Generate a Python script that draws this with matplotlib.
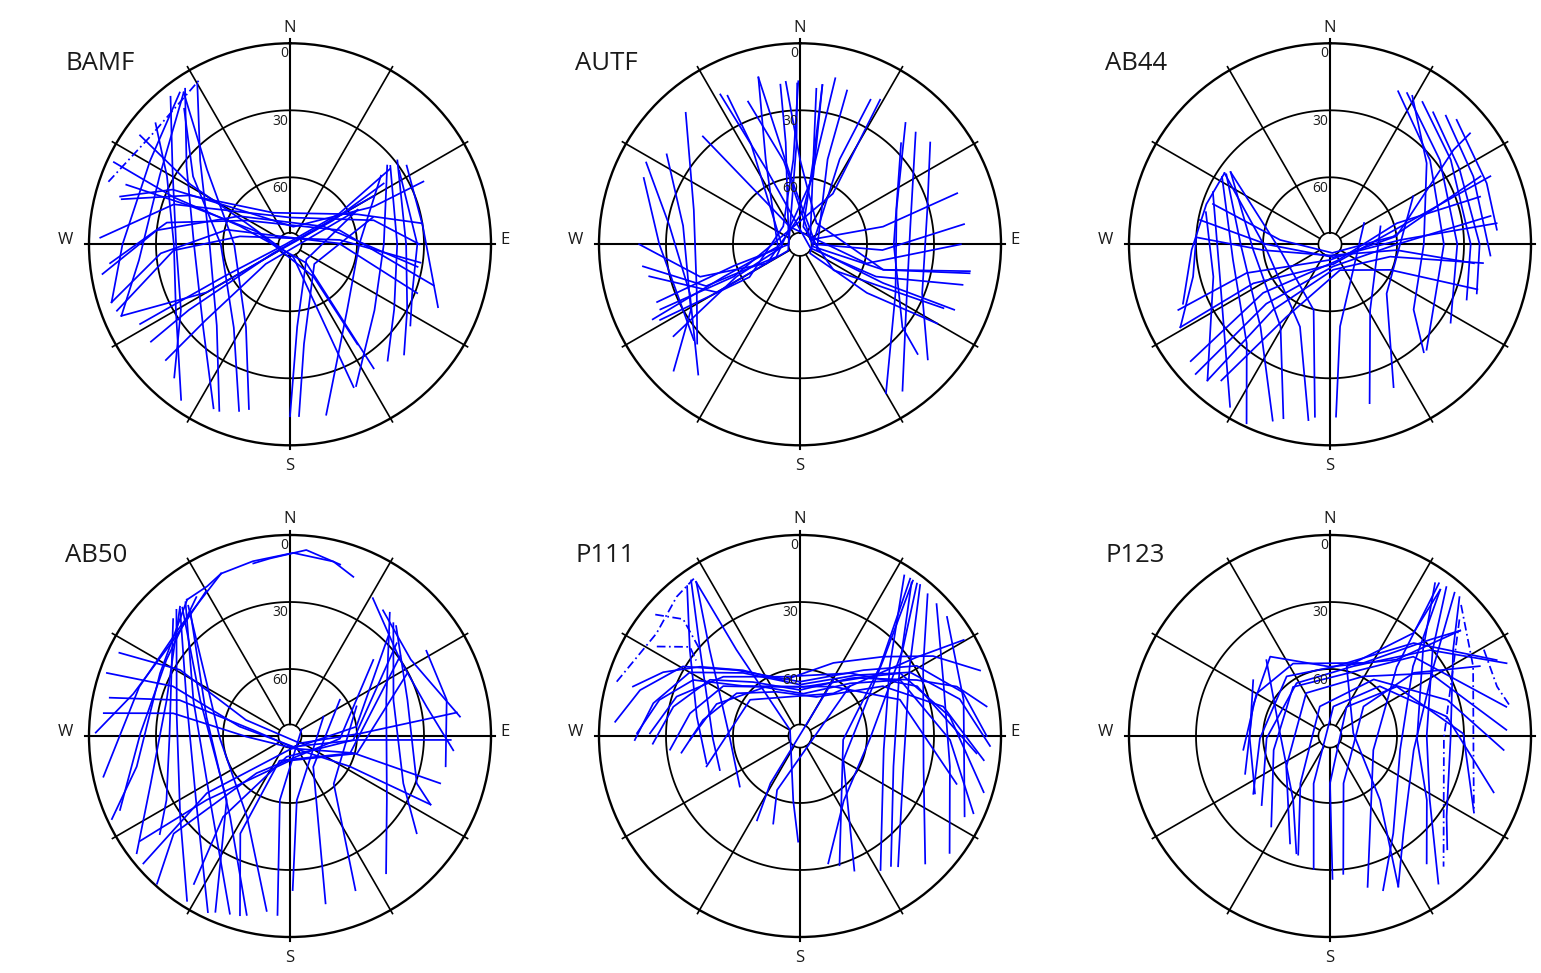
import numpy as np
import matplotlib.pyplot as plt

plt.rcParams['font.family'] = ['Open Sans', 'DejaVu Sans']

# satellite tracks: azimuth (deg) and elevation (deg) per track
bamf_az = [
    [326, 307, 270, 226, 205], [321, 302, 270, 239, 221], [330, 313, 270, 222, 203],
    [322, 305, 270, 214, 197], [312, 299, 270, 240, 215], [325, 312, 270, 208, 194],
    [295, 292, 290, 139, 146], [306, 301, 296, 165, 156], [290, 291, 291, 144, 146],
    [272, 289, 0, 74, 90], [285, 296, 332, 66, 81], [261, 276, 299, 62, 100],
    [264, 280, 299, 74, 106], [252, 266, 283, 89, 111],
    [51, 90, 128, 155], [52, 90, 122, 140], [52, 90, 119, 134], [56, 90, 112, 124],
    [56, 82, 113], [53, 90, 139, 168],
    [53, 58, 270, 244, 242], [57, 61, 240, 240, 247], [60, 242, 237, 235], [63, 231, 228, 227],
    [63, 133, 175, 180], [72, 129, 172, 177],
    [324, 301, 270, 252], [325, 298, 264, 247], [289, 308, 331],
    [285.7, 295, 304.5, 10.7, 65.7, 64.8], [249, 267, 279, 85, 98],
]
bamf_el = [
    [6, 32, 47, 36, 9], [5, 28, 39, 33, 11], [7, 35, 54, 41, 9],
    [13, 37, 59, 45, 12], [9, 27, 38, 31, 5], [7, 40, 65, 48, 14],
    [3, 34, 66, 79, 23], [7, 38, 68, 84, 20], [12, 42, 74, 72, 36],
    [5, 35, 78, 51, 32], [12, 40, 74, 57, 30], [5, 30, 64, 73, 32],
    [9, 34, 68, 67, 23], [6, 32, 61, 68, 29],
    [34, 48, 42, 20], [33, 42, 35, 22], [29, 38, 30, 19], [31, 33, 31, 25],
    [27, 30, 18], [39, 59, 51, 12],
    [34, 64, 88, 57, 14], [40, 68, 85, 47, 8], [47, 81, 36, 14], [56, 76, 39, 14],
    [56, 80, 53, 13], [51, 76, 45, 13],
    [6, 17, 15, 6], [7, 24, 22, 8], [4, 11, 6],
    [11, 32, 62.8, 82, 49, 24], [7, 37.8, 67.3, 67.6, 31],
]
bamf_dashed = [28]

autf_az = [
    [270, 252, 240, 5.5, 12], [262, 246, 242, 11, 8], [258, 240, 242, 358, 359],
    [248, 252, 270, 352, 353], [243, 247, 264, 338, 346], [234, 243, 262, 334, 334],
    [298, 278, 246, 218], [319, 288, 245, 226], [304, 279, 239, 225], [293, 270, 241, 228],
    [41, 70, 117, 150], [46, 81, 122, 145], [52, 75, 112, 132], [45, 90, 129, 133],
    [83, 94, 90, 352, 346], [99, 107, 100, 349, 340], [104, 113, 110, 336, 332],
    [72, 78, 66, 9, 6], [113, 115, 109, 18, 17], [120, 126, 132, 25, 26],
    [245, 244, 33, 29], [90, 106, 330, 318],
    [359.4, 355.5, 317, 237, 241.6], [8, 9, 10.7, 127.6, 114], [355, 0, 38, 107, 99.7],
]
autf_el = [
    [18, 43, 73, 75, 14], [19, 44, 78, 59, 18], [21, 47, 84, 45, 18],
    [21, 59, 85, 44, 18], [16, 53, 80, 49, 13], [20, 58, 82, 40, 16],
    [12, 31, 36, 16], [12, 40, 39, 26], [18, 37, 33, 10], [14, 27, 30, 26],
    [18, 44, 42, 13], [18, 40, 34, 10], [16, 31, 31, 13], [26, 48, 31, 18],
    [16, 53, 83, 59, 13], [13, 51, 84, 52, 22], [15, 53, 85, 54, 14],
    [16, 52, 85, 52, 20], [15, 49, 82, 50, 18], [19, 53, 84, 48, 18],
    [21, 57, 63, 16], [18, 59, 81, 25],
    [17, 52, 79, 63, 18.8], [18, 51.8, 82, 71, 19.7], [17, 52, 78, 51, 13],
]
autf_dashed = []

ab44_az = [
    [24, 50, 90, 137.5], [27, 52.5, 90, 123], [33, 55, 90, 112], [38, 60, 90, 108.5],
    [42, 64.7, 94], [45.5, 68.7, 85], [29, 50, 90, 128, 139],
    [246.6, 251, 180, 83, 52.6, 51.6], [241, 243, 170, 76, 67], [230, 234, 157, 72.5, 72.4],
    [226, 227, 172, 91, 80], [222, 221, 173, 101.6, 97], [218.6, 211, 159, 113, 107],
    [304, 270, 220, 198], [302, 261, 220, 205], [306, 266, 211, 195], [294, 253.6, 211.6],
    [304, 265, 200, 187], [284.5, 254.5, 222], [273, 256.7, 241], [304, 288, 267.7, 248],
    [273, 265, 180, 95, 97.5], [280.6, 270, 165, 86.5, 82.8], [289, 275, 165, 83, 65.7],
    [306, 263.5, 194, 185], [58, 173, 178], [70.5, 148.6, 166], [60, 131, 156],
]
ab44_el = [
    [15, 31.5, 39, 26], [14, 28, 33, 25.6], [14, 24, 27, 24], [15, 23, 23, 20.7],
    [12.5, 19, 18], [10.5, 14.7, 15], [14, 33.5, 48, 42.5, 26],
    [16, 50.5, 83, 60, 20.4, 10], [13.4, 51.5, 81, 57.6, 12], [8.6, 53, 82, 58.6, 19.5],
    [6.4, 51, 80, 61.6, 17], [8, 51, 78.5, 62.5, 21], [12, 52, 77.6, 60.7, 21],
    [34, 50, 41.6, 7], [33, 46, 32, 1.6], [35, 55.5, 47, 9.4], [32.6, 38.6, 4.6],
    [33, 61.5, 50.7, 10.7], [32.6, 35.8, 8], [30, 27, 13.4], [33, 31.8, 28, 19],
    [30, 60, 85, 60, 25], [30.7, 61.6, 84, 58.6, 14.8], [34.6, 67.6, 86, 61.5, 16],
    [35, 67.5, 59.7, 12.5], [72, 53, 12.8], [66, 55.5, 16.7], [47, 56.4, 20],
]
ab44_dashed = []

ab50_az = [
    [337, 348, 1, 14, 21.7], [348, 353.6, 5, 16.3], [322.8, 331, 337],
    [330, 309.5, 285, 271], [337, 314.8, 288, 257.7], [326, 301.6, 271, 246.5],
    [323, 295.7, 258.7, 245], [319.6, 286, 251, 232.6],
    [319, 289, 235.6, 205], [322, 290, 231, 198.7], [318, 280, 233.7, 212],
    [321.6, 283, 216.6, 193.6], [315, 269, 242.6, 233], [322, 268, 208, 187.6],
    [289, 293, 280.6, 163, 93.4, 91.4], [296, 301, 290, 126, 88, 82],
    [277, 281, 269, 160, 105, 107.5], [282, 288, 279, 150, 117, 116],
    [31, 55, 78, 95], [36.5, 57.7, 83.5], [42.5, 71, 112.7, 127.5], [39, 69.6, 123.5, 145],
    [44, 73, 110.5, 116], [58, 77, 101],
    [44, 82, 180, 235.5, 229], [49, 93.6, 189, 219.6, 213], [54, 106, 203, 207, 195.6],
    [54, 143, 168], [66, 137.5, 157], [60, 189, 184], [60, 174, 179],
    [320, 292, 224.7, 203], [47.6, 93, 222, 230, 222], [62, 104.6, 180, 232.5, 235],
]
ab50_el = [
    [11, 10, 8, 9.5, 13.3], [11, 10, 6.4, 10], [13.5, 13.4, 11],
    [15, 22.4, 17.3, 3], [11, 20.6, 19, 4.5], [15, 25, 23, 7],
    [13.5, 25.4, 20, 2], [14, 32.5, 24, 3.6],
    [15, 41, 39, 3], [14, 44, 44, 6], [14, 38.5, 29, 3],
    [18, 51.6, 45, 7.6], [16, 36, 27.7, 17], [16, 58.6, 49, 11],
    [3.3, 33, 67, 85, 60, 18], [5, 32.5, 69, 84.5, 58.6, 14.6],
    [6, 36.7, 70.6, 84, 60.6, 19.5], [7.5, 38, 73.4, 83, 60, 20],
    [18, 30, 27.4, 16.6], [20, 26, 13.4], [21.5, 41, 35, 18.5], [19, 44, 38, 15],
    [21.6, 35, 29.4, 20], [18, 18, 19],
    [26, 60, 84, 44.8, 3], [26.7, 61.6, 80.6, 43, 11], [29, 62, 78, 41, 6.7],
    [62.4, 72.7, 13.4], [57.4, 61, 15], [84, 61, 9.7], [72.7, 61, 21],
    [15, 46.6, 49.7, 4.5], [39.5, 67.6, 67.6, 22, 1], [30.7, 59, 79, 43, 8],
]
ab50_dashed = []

p111_az = [
    [33, 52, 99.5, 149], [36, 55, 108, 145], [38.5, 57.8, 106.5, 143], [42, 60.6, 104, 135.5],
    [46, 70, 101.5, 128], [51, 77.6, 116], [37.5, 50, 92, 146, 167.5], [35, 49, 95, 163],
    [274.4, 286, 300.7, 316, 0, 44, 59, 75, 90],
    [268.6, 282.6, 300, 318, 0, 43, 60, 77, 93],
    [267, 283, 302, 319, 0, 41, 58, 82.7, 107],
    [264, 281.6, 303, 323, 4.5, 43.5, 60.8, 91.5, 114],
    [262, 279.4, 304, 332, 23, 59, 78.4, 97.5],
    [252, 306, 38, 56, 59.6],
    [286.5, 295, 304.7, 319, 343.4, 24.6, 46.4, 59, 70],
    [271, 284.4, 297.7, 311, 4, 46, 64.4, 72.5, 81],
    [325, 310.7, 268, 247], [326, 313.7, 268, 230], [323, 308, 280.6, 253.7],
    [326, 323.6, 301, 186, 181], [30.8, 212, 207], [45, 203, 197],
    [286.5, 305.6, 318.5, 326], [310, 315, 310.7], [302, 309, 306],
    [36, 47.6, 119, 158],
    [271, 287.7, 307.7, 344, 38.6, 67, 95.6], [268, 291, 326, 34, 70, 107],
]
p111_el = [
    [4.3, 39, 52, 20], [5, 35.5, 46, 19], [3.6, 32, 41.7, 17], [4.6, 26.7, 33, 10],
    [5, 21.6, 21.5, 5], [5.3, 15, 8], [4, 30, 58.6, 55, 31.6], [4, 42.5, 70.6, 29.5],
    [7, 15.5, 29, 49, 65.7, 49, 29, 14.5, 6.4],
    [16, 22.7, 33, 52, 67, 52.7, 33, 16.6, 4.8],
    [24, 31.8, 42.5, 58, 69.4, 55.8, 37, 22.3, 4],
    [31.5, 39.7, 49, 62.5, 71, 57.5, 38.6, 22.8, 5],
    [36.4, 46, 55.8, 67.6, 71, 46.7, 24.5, 7],
    [46, 62.4, 65.8, 26.8, 5],
    [12, 22.4, 35.5, 51, 64, 54, 38.5, 20.5, 4.2],
    [17, 25, 36, 55.8, 68, 52.7, 32, 16.4, 5.4],
    [5, 31, 51, 51], [7, 34, 58.6, 54.8], [6, 27.4, 43, 46.4],
    [6.7, 42, 84.8, 61, 42.7], [61, 65, 47.6], [58.5, 63.7, 49],
    [4.4, 11, 6.7, 5], [5.4, 16, 31], [14.4, 26.6, 32.5],
    [4, 39.5, 67.8, 25],
    [22.8, 32, 46.6, 62.4, 54, 33, 10.6], [40.7, 50, 63.3, 63.3, 42.4, 16.7],
]
p111_dashed = [22, 23, 24]

p123_az = [
    [38, 50, 90, 122.6, 143.7], [34.5, 47, 92, 123.5, 142.8], [43, 55, 91, 124.7, 134],
    [37, 50, 101, 147, 161], [35.5, 44, 108, 166],
    [261, 300, 333, 24.6, 46, 51], [233, 268, 324, 3, 42, 65.5],
    [224.7, 268, 327.7, 18.6, 49.3, 67.6], [246, 291, 323, 0, 41, 51],
    [213, 256, 323, 15, 46.4, 80.6], [200.4, 234.7, 331, 29, 58, 88],
    [195, 212, 341, 37.7, 73, 94.6], [187, 199, 6.5, 45, 80.6, 109],
    [179, 180, 29.6, 53.5, 89, 118], [174.5, 164, 48.6, 53, 65],
    [155.6, 142, 83, 13.5, 39, 37], [306, 269, 232.6],
    [45, 64, 102, 118], [60.7, 73.5, 81], [48, 91, 139],
    [41, 56, 99.5, 143, 155.6], [320, 273, 210, 196],
]
p123_el = [
    [5.4, 30, 46.7, 37, 8], [7, 33, 51, 38, 18.4], [5, 22.7, 36, 26.5, 17],
    [8, 41.5, 58, 38, 17], [6, 47, 69.6, 20.4],
    [50.7, 52, 53.6, 54, 28, 15], [47, 58.6, 57, 59, 34, 8],
    [46.5, 61.6, 62, 57, 31, 4.5], [48.4, 53, 45.5, 59, 44.7, 15],
    [41.7, 64, 62.5, 61, 38.5, 10], [38.7, 66, 68, 59.5, 37, 11],
    [35, 65, 76, 58, 35, 12], [30, 67.5, 76.7, 58.5, 37, 12.5],
    [26, 68.8, 75, 52.8, 30.3, 17], [28, 68, 70, 43, 16],
    [16, 53.6, 79.5, 58, 30.7, 8], [47.5, 54, 47.7],
    [7, 18.7, 24.3, 17], [11, 12, 8], [12, 39, 12.5],
    [5, 34, 52, 35.4, 16], [45.7, 67.6, 57, 35.4],
]
p123_dashed = [17, 18, 19]

stations = ["BAMF", "AUTF", "AB44", "AB50", "P111", "P123"]
tracks = [
    (bamf_az, bamf_el, bamf_dashed), (autf_az, autf_el, autf_dashed),
    (ab44_az, ab44_el, ab44_dashed), (ab50_az, ab50_el, ab50_dashed),
    (p111_az, p111_el, p111_dashed), (p123_az, p123_el, p123_dashed),
]

W, H = 1541, 973
R = 201
centers = [(290, 244.3), (800, 244.3), (1330, 244.3), (290, 736), (800, 736), (1330, 736)]

fig = plt.figure(figsize=(W / 100, H / 100), dpi=100)
ring = np.linspace(0, 2 * np.pi, 361)
txt = '#1a1a1a'

for name, (cx, cy), (az_list, el_list, dashed) in zip(stations, centers, tracks):
    ax = fig.add_axes([(cx - R) / W, 1 - (cy + R) / H, 2 * R / W, 2 * R / H], projection='polar')
    ax.set_theta_zero_location('N')
    ax.set_theta_direction(-1)
    ax.set_ylim(0, 90)
    ax.set_xticks([])
    ax.set_yticks([])
    ax.grid(False)
    ax.spines['polar'].set_linewidth(1.7)

    # rings and spokes
    for r in (30, 60):
        ax.plot(ring, np.full_like(ring, r), color='k', lw=1.3, zorder=2)
    ax.plot(ring, np.full_like(ring, 5.2), color='k', lw=1.2, zorder=2)
    for a in range(0, 360, 30):
        lw = 1.5 if a % 90 == 0 else 1.2
        ax.plot([np.deg2rad(a)] * 2, [5.2, 91.8], color='k', lw=lw, zorder=2, clip_on=False)

    for i, (az, el) in enumerate(zip(az_list, el_list)):
        ls = (0, (5, 2, 1, 2)) if i in dashed else '-'
        ax.plot(np.deg2rad(az), 90 - np.array(el), color='#0000ff', lw=1.25, ls=ls, zorder=3)

    for lab, r in (('0', 85.5), ('30', 55.2), ('60', 25.0)):
        ax.annotate(lab, xy=(0, r), xytext=(-1.5, 0), textcoords='offset points',
                    ha='right', va='center', fontsize=10, color=txt, zorder=4)

    ax.text(0, 95.2, 'N', ha='center', va='baseline', fontsize=12, color=txt)
    ax.text(np.pi, 95.8, 'S', ha='center', va='top', fontsize=12, color=txt)
    ax.text(1.5 * np.pi, 97, 'W', ha='right', va='baseline', fontsize=12, color=txt)
    ax.text(0.5 * np.pi, 94, 'E', ha='left', va='baseline', fontsize=12, color=txt)

    fig.text((cx - 225) / W, 1 - (cy - 174) / H, name, ha='left', va='baseline',
             fontsize=18.5, color=txt)

fig.savefig('out.png', dpi=100)
